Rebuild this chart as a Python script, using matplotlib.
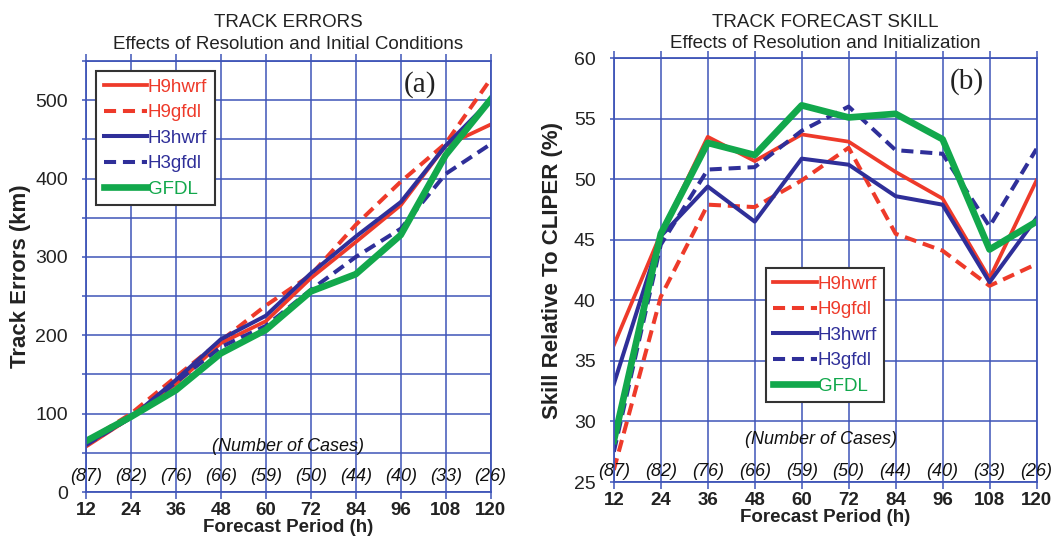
import matplotlib
matplotlib.use("Agg")
import matplotlib.pyplot as plt
from matplotlib.ticker import MultipleLocator

plt.rcParams['font.family'] = ['Liberation Sans', 'DejaVu Sans']

hours = [12, 24, 36, 48, 60, 72, 84, 96, 108, 120]
cases = [87, 82, 76, 66, 59, 50, 44, 40, 33, 26]
series_names = ["H9hwrf", "H9gfdl", "H3hwrf", "H3gfdl", "GFDL"]

# Panel (a): track errors (km)
err_h9hwrf = [58, 95, 138, 190, 218, 273, 319, 366, 442, 469]
err_h9gfdl = [64, 100, 147, 193, 238, 277, 341, 396, 445, 527]
err_h3hwrf = [61, 95, 143, 195, 225, 279, 326, 370, 442, 500]
err_h3gfdl = [60, 95, 140, 185, 212, 258, 300, 336, 406, 444]
err_gfdl = [65, 96, 130, 177, 207, 256, 278, 328, 430, 501]

# Panel (b): skill relative to CLIPER (%)
sk_h9hwrf = [36.3, 45.5, 53.5, 51.5, 53.7, 53.1, 50.6, 48.4, 41.8, 49.9]
sk_h9gfdl = [26.0, 40.3, 47.9, 47.7, 49.9, 52.6, 45.5, 44.1, 41.2, 43.0]
sk_h3hwrf = [33.1, 45.3, 49.4, 46.5, 51.7, 51.2, 48.6, 47.9, 41.5, 46.8]
sk_h3gfdl = [27.5, 44.6, 50.8, 51.0, 54.0, 56.0, 52.4, 52.1, 46.1, 52.5]
sk_gfdl = [28.4, 45.5, 53.0, 52.0, 56.1, 55.1, 55.4, 53.3, 44.2, 46.5]

RED = "#ee3a2a"
BLUE = "#2f2f99"
GREEN = "#12a84c"
GRID = "#3f55b8"

styles = [
    dict(color=RED, lw=2.7, ls='-'),
    dict(color=RED, lw=2.9, ls=(0, (3.0, 1.7))),
    dict(color=BLUE, lw=2.9, ls='-'),
    dict(color=BLUE, lw=2.9, ls=(0, (3.0, 1.7))),
    dict(color=GREEN, lw=4.8, ls='-'),
]

fig = plt.figure(figsize=(10.62, 5.38), dpi=100)
ax1 = fig.add_axes([0.081, 0.0855, 0.381, 0.801])
ax2 = fig.add_axes([0.578, 0.104, 0.398, 0.788])


def style_axes(ax):
    ax.set_xlim(12, 120)
    ax.set_xticks(hours)
    ax.grid(True, which='both', color=GRID, lw=1.1)
    ax.set_axisbelow(True)
    for s in ax.spines.values():
        s.set_color(GRID)
        s.set_linewidth(1.3)
    ax.tick_params(axis='x', which='both', top=True, bottom=True, direction='out',
                   length=5, color=GRID, width=1.1, pad=2, labelsize=13.5)
    ax.tick_params(axis='y', which='both', left=True, direction='out',
                   length=3, color=GRID, width=1.1, pad=10, labelsize=14,
                   labelcolor='#222222')
    for lbl in ax.get_xticklabels():
        lbl.set_fontweight('bold')
        lbl.set_color('#222222')
    ax.set_xlabel("Forecast Period (h)", fontsize=13.5, fontweight='bold',
                  color='#222222', labelpad=0)


def add_legend(ax, handles, loc, anchor):
    leg = ax.legend(handles, series_names, loc=loc, bbox_to_anchor=anchor,
                    fontsize=13.5, handlelength=2.3, handletextpad=0.05,
                    labelspacing=0.45, borderpad=0.4, fancybox=False,
                    framealpha=1, edgecolor='#333333', borderaxespad=0)
    leg.get_frame().set_linewidth(1.5)
    for txt, st in zip(leg.get_texts(), styles):
        txt.set_color(st['color'])
    return leg


# ---- Panel (a)
data_a = [err_h9hwrf, err_h9gfdl, err_h3hwrf, err_h3gfdl, err_gfdl]
h_a = []
for vals, st in zip(data_a, styles):
    ln, = ax1.plot(hours, vals, solid_joinstyle='round', **st)
    h_a.append(ln)
ax1.set_ylim(0, 550)
ax1.yaxis.set_major_locator(MultipleLocator(100))
ax1.yaxis.set_minor_locator(MultipleLocator(50))
ax1.yaxis.set_minor_formatter(plt.NullFormatter())
style_axes(ax1)
ax1.set_ylabel("Track Errors (km)", fontsize=16, fontweight='bold', color='#222222', labelpad=3)
ax1.set_title("TRACK ERRORS\nEffects of Resolution and Initial Conditions",
              fontsize=13.5, color='#222222', pad=9, linespacing=1.35)
add_legend(ax1, h_a, 'upper left', (0.025, 0.977))
ax1.text(0.825, 0.945, "(a)", transform=ax1.transAxes, ha='center', va='center',
         fontsize=21, family='Liberation Serif', color='#222222')
for h, c in zip(hours, cases):
    ax1.text(h, 20, f"({c})", ha='center', va='center', style='italic',
             fontsize=13, color='#111111')
ax1.text(66, 58, "(Number of Cases)", ha='center', va='center', style='italic',
         fontsize=13, color='#111111')

# ---- Panel (b)
data_b = [sk_h9hwrf, sk_h9gfdl, sk_h3hwrf, sk_h3gfdl, sk_gfdl]
h_b = []
for vals, st in zip(data_b, styles):
    ln, = ax2.plot(hours, vals, solid_joinstyle='round', **st)
    h_b.append(ln)
ax2.set_ylim(25, 60)
ax2.yaxis.set_major_locator(MultipleLocator(5))
style_axes(ax2)
ax2.set_ylabel("Skill Relative To CLIPER (%)", fontsize=16, fontweight='bold', color='#222222', labelpad=8)
ax2.set_title("TRACK FORECAST SKILL\nEffects of Resolution and Initialization",
              fontsize=13.5, color='#222222', pad=7, linespacing=1.35)
add_legend(ax2, h_b, 'upper left', (0.36, 0.505))
ax2.text(0.835, 0.945, "(b)", transform=ax2.transAxes, ha='center', va='center',
         fontsize=21, family='Liberation Serif', color='#222222')
for h, c in zip(hours, cases):
    ax2.text(h, 25.9, f"({c})", ha='center', va='center', style='italic',
             fontsize=13, color='#111111')
ax2.text(65, 28.5, "(Number of Cases)", ha='center', va='center', style='italic',
         fontsize=13, color='#111111')

fig.savefig("out.png", dpi=100, facecolor='white')
